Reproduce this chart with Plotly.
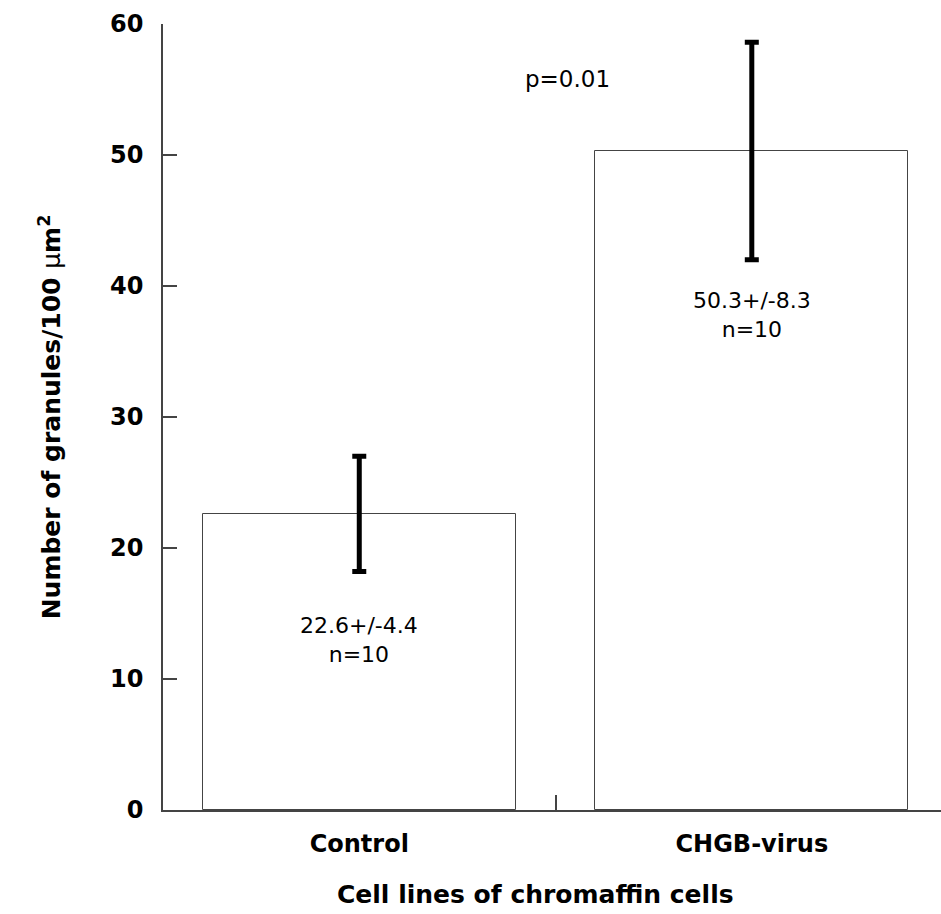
import plotly.graph_objects as go

# Granule density per cell line (mean +/- SD, n per group)
categories = ["Control", "CHGB-virus"]
means = [22.6, 50.3]
errors = [4.4, 8.3]
counts = [10, 10]
p_value_text = "p=0.01"

positions = list(range(len(categories)))
FONT = "DejaVu Sans, Arial, sans-serif"

fig = go.Figure()
fig.add_trace(go.Bar(
    x=positions,
    y=means,
    width=0.797,
    marker=dict(color="white", line=dict(color="#444444", width=1)),
    error_y=dict(type="data", array=errors, visible=True,
                 color="black", thickness=5, width=7),
    showlegend=False,
))

# Value / n labels inside each bar
label_offsets = [-9.6, -12.5]
for xi, m, e, n, off in zip(positions, means, errors, counts, label_offsets):
    fig.add_annotation(x=xi, y=m + off, xref="x", yref="y",
                       text=f"{m}+/-{e}<br>n={n}", showarrow=False,
                       font=dict(family=FONT, size=22, color="black"),
                       align="center", yanchor="middle")

fig.add_annotation(x=0.53, y=55.8, xref="x", yref="y", text=p_value_text,
                   showarrow=False, font=dict(family=FONT, size=23, color="black"))

fig.add_annotation(x=0.479, y=-0.108, xref="paper", yref="paper",
                   text="Cell lines of chromaffin cells", showarrow=False,
                   xanchor="center", yanchor="middle",
                   font=dict(family=FONT, size=25, color="black", weight="bold"))

fig.update_layout(
    width=941, height=914,
    margin=dict(l=163, r=0, t=24, b=104),
    plot_bgcolor="white", paper_bgcolor="white",
    bargap=0,
    xaxis=dict(
        range=[-0.5, 1.482],
        tickvals=positions, ticktext=categories,
        ticks="", showgrid=False, zeroline=False,
        showline=True, linecolor="#444444", linewidth=1.5,
        ticklabelstandoff=11,
        tickfont=dict(family=FONT, size=24, color="black", weight="bold"),
        minor=dict(tickvals=[0.5], ticks="inside", ticklen=15,
                   tickcolor="#444444", tickwidth=1.5, showgrid=False),
    ),
    yaxis=dict(
        range=[0, 60], tickvals=[0, 10, 20, 30, 40, 50, 60],
        ticks="inside", ticklen=14, tickcolor="#444444", tickwidth=1.5,
        showgrid=False, zeroline=False,
        showline=True, linecolor="#444444", linewidth=1.5,
        ticklabelstandoff=13,
        tickfont=dict(family=FONT, size=24, color="black", weight="bold"),
        title=dict(text="Number of granules/100 <span style='font-weight:normal'>μ</span>m<sup>2</sup>",
                   font=dict(family=FONT, size=25, color="black", weight="bold"),
                   standoff=42),
    ),
)

fig.write_html("out.html")
